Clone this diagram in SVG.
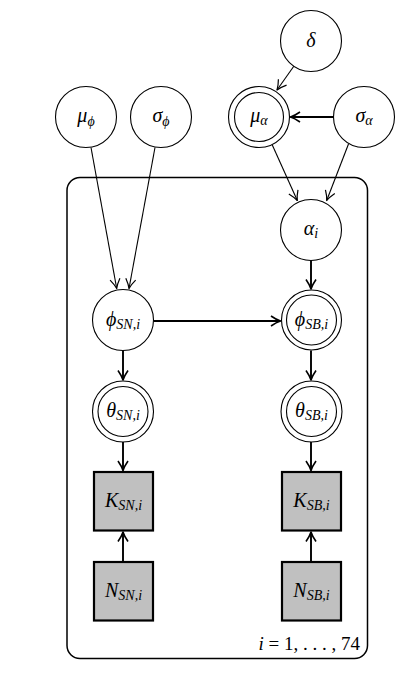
<svg xmlns="http://www.w3.org/2000/svg" width="417" height="689" viewBox="0 0 417 689">
<style>
.n{fill:#fff;stroke:#000;stroke-width:1.1}
.o{fill:#c0c0c0;stroke:#000;stroke-width:2.2}
.t{font-family:"Liberation Serif","DejaVu Serif",serif;font-style:italic;font-size:20px;text-anchor:middle;fill:#000}
.s{font-size:14px}
.e{stroke:#000;fill:none;stroke-width:1.1}
.k{stroke:#000;fill:none;stroke-width:1.9}
.plate{fill:none;stroke:#000;stroke-width:1.5}
</style>
<defs>
<marker id="a" markerUnits="userSpaceOnUse" markerWidth="14" markerHeight="14" viewBox="-11 -7 14 14" refX="0" refY="0" orient="auto" overflow="visible">
<path d="M-9.5,-5 Q-4,-1.2 0,0 Q-4,1.2 -9.5,5" fill="none" stroke="#000" stroke-width="1.2" stroke-linejoin="round"/>
</marker>
<marker id="b" markerUnits="userSpaceOnUse" markerWidth="14" markerHeight="14" viewBox="-11 -7 14 14" refX="0" refY="0" orient="auto" overflow="visible">
<path d="M-9.5,-5 Q-4,-1.2 0,0 Q-4,1.2 -9.5,5" fill="none" stroke="#000" stroke-width="1.6" stroke-linejoin="round"/>
</marker>
</defs>
<rect class="plate" x="67" y="177.5" width="300.5" height="481" rx="13"/>
<g id="connectors">
<line class="e" x1="293.8" y1="66.2" x2="277" y2="90" marker-end="url(#a)"/>
<line class="k" x1="333.5" y1="117" x2="290.5" y2="117" marker-end="url(#b)"/>
<line class="e" x1="91" y1="147.5" x2="116.7" y2="288.5" marker-end="url(#a)"/>
<line class="e" x1="155" y1="147.5" x2="129" y2="288.5" marker-end="url(#a)"/>
<line class="e" x1="272.3" y1="145" x2="297.3" y2="200.5" marker-end="url(#a)"/>
<line class="e" x1="348.5" y1="144" x2="326.7" y2="200.5" marker-end="url(#a)"/>
<line class="k" x1="311" y1="260.5" x2="311" y2="289" marker-end="url(#b)"/>
<line class="k" x1="153.5" y1="321" x2="280.5" y2="321" marker-end="url(#b)"/>
<line class="k" x1="123" y1="350.5" x2="123" y2="380" marker-end="url(#b)"/>
<line class="k" x1="311" y1="350.5" x2="311" y2="380" marker-end="url(#b)"/>
<line class="k" x1="123" y1="441.5" x2="123" y2="470.5" marker-end="url(#b)"/>
<line class="k" x1="311" y1="441.5" x2="311" y2="470.5" marker-end="url(#b)"/>
<line class="k" x1="123" y1="562" x2="123" y2="532" marker-end="url(#b)"/>
<line class="k" x1="311" y1="562" x2="311" y2="532" marker-end="url(#b)"/>
</g>
<g id="delta"><circle class="n" cx="311" cy="41" r="30.5"/><text class="t" x="311" y="47">δ</text></g>
<g id="mu_phi"><circle class="n" cx="86" cy="117" r="30.5"/><text class="t" x="86" y="122">μ<tspan class="s" dy="4">ϕ</tspan></text></g>
<g id="sigma_phi"><circle class="n" cx="161" cy="117" r="30.5"/><text class="t" x="161" y="122">σ<tspan class="s" dy="4">ϕ</tspan></text></g>
<g id="mu_alpha"><circle class="n" cx="259" cy="117" r="30.5"/><circle class="n" cx="259" cy="117" r="24.5"/><text class="t" x="259" y="122">μ<tspan class="s" dy="3">α</tspan></text></g>
<g id="sigma_alpha"><circle class="n" cx="364" cy="117" r="30.5"/><text class="t" x="364" y="122">σ<tspan class="s" dy="3">α</tspan></text></g>
<g id="alpha_i"><circle class="n" cx="311" cy="230" r="30.5"/><text class="t" x="311" y="235">α<tspan class="s" dy="3">i</tspan></text></g>
<g id="phi_SN"><circle class="n" cx="123" cy="320" r="30.5"/><text class="t" x="123" y="326">ϕ<tspan class="s" dy="3">SN,i</tspan></text></g>
<g id="phi_SB"><circle class="n" cx="311.5" cy="320" r="30"/><circle class="n" cx="311.5" cy="320" r="25"/><text class="t" x="311.5" y="326">ϕ<tspan class="s" dy="3">SB,i</tspan></text></g>
<g id="theta_SN"><circle class="n" cx="123" cy="411.5" r="30.5"/><circle class="n" cx="123" cy="411.5" r="25"/><text class="t" x="123" y="417">θ<tspan class="s" dy="3">SN,i</tspan></text></g>
<g id="theta_SB"><circle class="n" cx="311.5" cy="411.5" r="30.5"/><circle class="n" cx="311.5" cy="411.5" r="25"/><text class="t" x="311.5" y="417">θ<tspan class="s" dy="3">SB,i</tspan></text></g>
<g id="K_SN"><rect class="o" x="94" y="472" width="59" height="58.5"/><text class="t" x="123.5" y="507">K<tspan class="s" dy="3">SN,i</tspan></text></g>
<g id="K_SB"><rect class="o" x="282" y="472" width="59" height="58.5"/><text class="t" x="311.5" y="507">K<tspan class="s" dy="3">SB,i</tspan></text></g>
<g id="N_SN"><rect class="o" x="94" y="562" width="59" height="58.5"/><text class="t" x="123.5" y="597">N<tspan class="s" dy="3">SN,i</tspan></text></g>
<g id="N_SB"><rect class="o" x="282" y="562" width="59" height="58.5"/><text class="t" x="311.5" y="597">N<tspan class="s" dy="3">SB,i</tspan></text></g>
<text x="360" y="650" style="font-family:'Liberation Serif','DejaVu Serif',serif;font-size:19px;text-anchor:end"><tspan font-style="italic">i</tspan> = 1, . . . , 74</text>
</svg>
